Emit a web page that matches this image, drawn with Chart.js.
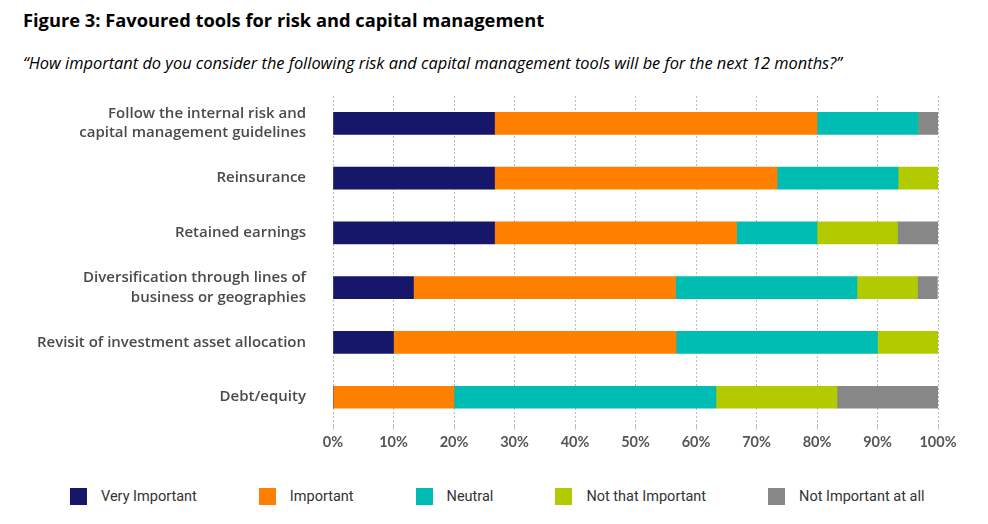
<!DOCTYPE html>
<html>
<head>
<meta charset="utf-8">
<script src="https://cdn.jsdelivr.net/npm/chart.js@4.4.0/dist/chart.umd.min.js"></script>
<style>
  body { margin: 0; background: #fff; width: 988px; height: 524px; overflow: hidden; }
  .title { position: absolute; left: 23px; top: 7px; font-family: "Open Sans", sans-serif; font-weight: 700; font-size: 18.3px; color: #000; }
  .sub { position: absolute; left: 23px; top: 51px; font-family: "Open Sans", sans-serif; font-style: italic; font-size: 16.4px; color: #000; }
  .wrap { position: absolute; left: 0; top: 85px; width: 988px; height: 370px; }
  #legend { position: absolute; left: 70px; top: 488px; display: flex; gap: 62px; font-family: Roboto, sans-serif; font-size: 14.5px; color: #333; white-space: nowrap; }
  #legend .item { display: flex; align-items: center; }
  #legend .box { width: 17px; height: 17px; margin-right: 14px; }
</style>
</head>
<body>
<div class="title">Figure 3: Favoured tools for risk and capital management</div>
<div class="sub">“How important do you consider the following risk and capital management tools will be for the next 12 months?”</div>
<div class="wrap"><canvas id="barChart"></canvas></div>
<div id="legend"></div>
<script>
const categories = [
    ['Follow the internal risk and', 'capital management guidelines'],
    'Reinsurance',
    'Retained earnings',
    ['Diversification through lines of', 'business or geographies'],
    'Revisit of investment asset allocation',
    'Debt/equity'
];
const seriesNames = ['Very Important', 'Important', 'Neutral', 'Not that Important', 'Not Important at all'];
const veryImportant = [26.7, 26.7, 26.7, 13.3, 10, 0];
const important = [53.3, 46.7, 40, 43.3, 46.7, 20];
const neutral = [16.7, 20, 13.3, 30, 33.3, 43.3];
const notThatImportant = [0, 6.7, 13.3, 10, 10, 20];
const notImportantAtAll = [3.3, 0, 6.7, 3.3, 0, 16.7];
const xTicks = [0, 10, 20, 30, 40, 50, 60, 70, 80, 90, 100];

const colors = ['#16166b', '#ff7f00', '#00bdb3', '#b3ca00', '#878787'];
const seriesData = [veryImportant, important, neutral, notThatImportant, notImportantAtAll];

const ctx = document.getElementById('barChart').getContext('2d');

const chart = new Chart(ctx, {
    type: 'bar',
    data: {
        labels: categories,
        datasets: seriesNames.map((name, i) => ({
            label: name,
            data: seriesData[i],
            backgroundColor: colors[i]
        }))
    },
    options: {
        indexAxis: 'y',
        responsive: true,
        maintainAspectRatio: false,
        animation: false,
        layout: { padding: { top: 11, right: 50, left: 0, bottom: 0 } },
        datasets: { bar: { barThickness: 22 } },
        scales: {
            x: {
                stacked: true,
                min: 0,
                max: 100,
                afterBuildTicks: function (scale) {
                    scale.ticks = xTicks.map(v => ({ value: v }));
                },
                grid: {
                    color: '#bdbdbd',
                    lineWidth: 1,
                    tickLength: 5
                },
                border: { display: false, dash: [2, 2] },
                ticks: {
                    padding: 4,
                    color: '#555',
                    font: { family: 'Lato', size: 14.5, weight: 'bold' },
                    callback: v => v + '%'
                }
            },
            y: {
                stacked: true,
                grid: { display: false },
                border: { display: false },
                afterFit: function (scale) {
                    scale.width = 333;
                    scale.paddingTop = 0;
                    scale.paddingBottom = 0;
                },
                ticks: {
                    padding: 19,
                    color: '#4a4a4a',
                    font: { family: 'Open Sans', size: 15, weight: '600', lineHeight: 1.3 }
                }
            }
        },
        plugins: {
            legend: { display: false },
            tooltip: { enabled: false }
        }
    }
});

// legend built from the chart's datasets
const legendEl = document.getElementById('legend');
chart.data.datasets.forEach(ds => {
    const item = document.createElement('div');
    item.className = 'item';
    const box = document.createElement('span');
    box.className = 'box';
    box.style.background = ds.backgroundColor;
    const txt = document.createElement('span');
    txt.textContent = ds.label;
    item.appendChild(box);
    item.appendChild(txt);
    legendEl.appendChild(item);
});
</script>
</body>
</html>
